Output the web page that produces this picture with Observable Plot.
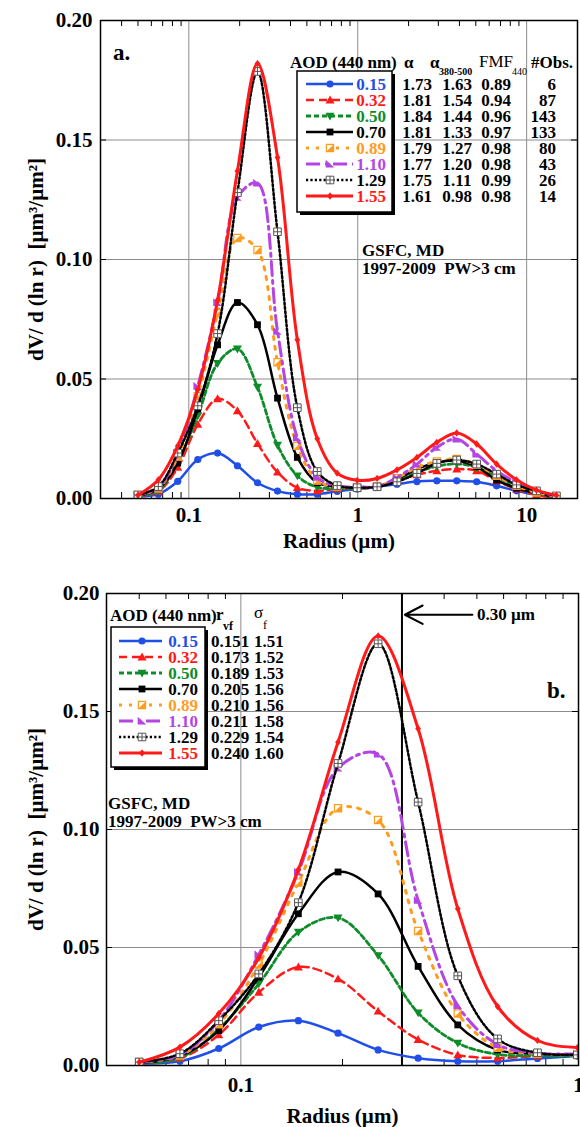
<!DOCTYPE html>
<html><head><meta charset="utf-8">
<script src="https://cdn.jsdelivr.net/npm/d3@7"></script>
<script src="https://cdn.jsdelivr.net/npm/@observablehq/plot@0.6"></script>
<style>
body{margin:0;background:#fff;}
#wrap{position:relative;width:580px;height:1127px;overflow:hidden;}
#pa{position:absolute;left:0;top:0;}
#pb{position:absolute;left:0;top:556px;}
svg text{font-family:"Liberation Serif","Times New Roman",serif;}
</style></head><body>
<div id="wrap"><div id="pa"></div><div id="pb"></div></div>
<script>
// ---------------- DATA ----------------
const radii = [0.050, 0.066, 0.086, 0.113, 0.148, 0.194, 0.255, 0.335, 0.439, 0.576, 0.756, 0.992,
               1.302, 1.708, 2.241, 2.940, 3.857, 5.061, 6.641, 8.713, 11.432, 15.000];
const aodLabels = ["0.15", "0.32", "0.50", "0.70", "0.89", "1.10", "1.29", "1.55"];
const dv015 = [0.0008, 0.0018, 0.0072, 0.0163, 0.0190, 0.0137, 0.0066, 0.0031, 0.0018, 0.0018, 0.0030, 0.0040,
               0.0049, 0.0060, 0.0071, 0.0074, 0.0074, 0.0070, 0.0053, 0.0032, 0.0015, 0.0004];
const dv032 = [0.0010, 0.0030, 0.0130, 0.0310, 0.0417, 0.0367, 0.0230, 0.0110, 0.0045, 0.0032, 0.0040, 0.0042,
               0.0050, 0.0074, 0.0099, 0.0116, 0.0123, 0.0116, 0.0074, 0.0039, 0.0015, 0.0004];
const dv050 = [0.0010, 0.0032, 0.0155, 0.0346, 0.0565, 0.0626, 0.0466, 0.0223, 0.0095, 0.0047, 0.0042, 0.0042,
               0.0050, 0.0075, 0.0110, 0.0135, 0.0145, 0.0130, 0.0090, 0.0050, 0.0022, 0.0008];
const dv070 = [0.0012, 0.0040, 0.0148, 0.0374, 0.0643, 0.0820, 0.0727, 0.0420, 0.0172, 0.0066, 0.0050, 0.0045,
               0.0048, 0.0080, 0.0123, 0.0151, 0.0158, 0.0133, 0.0077, 0.0043, 0.0022, 0.0007];
const dv089 = [0.0015, 0.0042, 0.0175, 0.0428, 0.0775, 0.1090, 0.1040, 0.0570, 0.0220, 0.0075, 0.0050, 0.0045,
               0.0050, 0.0085, 0.0130, 0.0155, 0.0165, 0.0141, 0.0095, 0.0053, 0.0025, 0.0008];
const dv110 = [0.0015, 0.0045, 0.0190, 0.0470, 0.0820, 0.1260, 0.1320, 0.0700, 0.0254, 0.0089, 0.0052, 0.0049,
               0.0049, 0.0088, 0.0144, 0.0214, 0.0249, 0.0186, 0.0116, 0.0067, 0.0032, 0.0011];
const dv129 = [0.0015, 0.0050, 0.0190, 0.0388, 0.0690, 0.1280, 0.1787, 0.1116, 0.0380, 0.0113, 0.0054, 0.0045,
               0.0049, 0.0070, 0.0105, 0.0147, 0.0161, 0.0144, 0.0102, 0.0057, 0.0032, 0.0011];
const dv155 = [0.0014, 0.0078, 0.0220, 0.0456, 0.0830, 0.1370, 0.1820, 0.1427, 0.0664, 0.0250, 0.0106, 0.0076,
               0.0084, 0.0120, 0.0172, 0.0235, 0.0274, 0.0228, 0.0144, 0.0078, 0.0035, 0.0014];
const alphaVals   = ["1.73", "1.81", "1.84", "1.81", "1.79", "1.77", "1.75", "1.61"];
const alpha380500 = ["1.63", "1.54", "1.44", "1.33", "1.27", "1.20", "1.11", "0.98"];
const fmf440      = ["0.89", "0.94", "0.96", "0.97", "0.98", "0.98", "0.99", "0.98"];
const nObs        = ["6", "87", "143", "133", "80", "43", "26", "14"];
const rvf         = ["0.151", "0.173", "0.189", "0.205", "0.210", "0.211", "0.229", "0.240"];
const sigmaF      = ["1.51", "1.52", "1.53", "1.56", "1.56", "1.58", "1.54", "1.60"];
const yTicks  = [0, 0.05, 0.10, 0.15, 0.20];
const yGrid   = [0.05, 0.10, 0.15];
const xTicksA = [0.1, 1, 10];
const xTicksB = [0.1, 1];
const minorA  = [0.04, 0.05, 0.06, 0.07, 0.08, 0.09, 0.2, 0.3, 0.4, 0.5, 0.6, 0.7, 0.8, 0.9, 2, 3, 4, 5, 6, 7, 8, 9];
const minorB  = [0.05, 0.06, 0.07, 0.08, 0.09, 0.2, 0.3, 0.4, 0.5, 0.6, 0.7, 0.8, 0.9];
const cutoffRadius = 0.30;
const siteText = ["GSFC, MD", "1997-2009\u00a0\u00a0PW>3 cm"];

// ---------------- SYMBOLS ----------------
const rad = size => Math.sqrt(size / Math.PI);
const symCircle = {draw(c, size){ const s = rad(size); c.moveTo(s, 0); c.arc(0, 0, s, 0, 2*Math.PI); }};
const symTriUp = {draw(c, size){ const s = rad(size)*1.25; c.moveTo(0, -s); c.lineTo(s, s*0.75); c.lineTo(-s, s*0.75); c.closePath(); }};
const symTriDown = {draw(c, size){ const s = rad(size)*1.25; c.moveTo(0, s); c.lineTo(s, -s*0.75); c.lineTo(-s, -s*0.75); c.closePath(); }};
const symSquare = {draw(c, size){ const s = rad(size); c.rect(-s, -s, 2*s, 2*s); }};
const symHalf = {draw(c, size){ const s = rad(size); c.moveTo(s, -s); c.lineTo(s, s); c.lineTo(-s, s); c.closePath(); }};
const symCorner = {draw(c, size){ const s = rad(size)*1.2; c.moveTo(-s, -s); c.lineTo(-s, s*0.8); c.lineTo(s, s*0.8); c.closePath(); }};
const symBoxCross = {draw(c, size){ const s = rad(size); c.moveTo(-s,-s); c.lineTo(s,-s); c.lineTo(s,s); c.lineTo(-s,s); c.closePath();
  c.moveTo(0,-s); c.lineTo(0,s); c.moveTo(-s,0); c.lineTo(s,0); }};
const symDiamond = {draw(c, size){ const s = rad(size)*1.3; c.moveTo(0,-s); c.lineTo(s*0.8,0); c.lineTo(0,s); c.lineTo(-s*0.8,0); c.closePath(); }};

const BLUE = "#1f4fe6", RED = "#ff1a1a", GREEN = "#0e8c2a", ORANGE = "#ff9c1f", PURPLE = "#b445e3";

const seriesValues = [dv015, dv032, dv050, dv070, dv089, dv110, dv129, dv155];
const styles = [
  {color: BLUE,   width: 2.5, dash: null,          text: BLUE,   markers: [{symbol: symCircle, r: 3.6, fill: BLUE, stroke: "none"}]},
  {color: RED,    width: 2.5, dash: "8,5",         text: RED,    markers: [{symbol: symTriUp, r: 3.6, fill: RED, stroke: "none"}]},
  {color: GREEN,  width: 2.8, dash: "5,3",         text: GREEN,  markers: [{symbol: symTriDown, r: 3.6, fill: GREEN, stroke: "none"}]},
  {color: "#000", width: 2.5, dash: null,          text: "#000", markers: [{symbol: symSquare, r: 3.4, fill: "#000", stroke: "none"}]},
  {color: ORANGE, width: 3,   dash: "3,7",         text: ORANGE, markers: [{symbol: symSquare, r: 3.6, fill: "#fff", stroke: ORANGE, sw: 1.2}, {symbol: symHalf, r: 3.6, fill: ORANGE, stroke: "none"}]},
  {color: PURPLE, width: 3,   dash: "14,5,3,5",    text: PURPLE, markers: [{symbol: symCorner, r: 3.6, fill: PURPLE, stroke: "none"}]},
  {color: "#000", width: 2.5, dash: "2.2,2.2",     text: "#000", markers: [{symbol: symBoxCross, r: 3.8, fill: "#fff", stroke: "#555", sw: 1}]},
  {color: RED,    width: 3,   dash: null,          text: RED,    markers: [{symbol: symDiamond, r: 2.8, fill: RED, stroke: "none"}]}
];

const rows = aodLabels.flatMap((aod, k) => radii.map((r, i) => ({aod, r, v: seriesValues[k][i]})));

const W = 580;
const FONT = "Liberation Serif, Times New Roman, serif";

function makePanel(cfg) {
  const innerW = W - cfg.ml - cfg.mr, innerH = cfg.h - cfg.mt - cfg.mb;
  const marks = [
    Plot.ruleX(cfg.xGrid, {stroke: "#8c8c8c", strokeWidth: 1}),
    Plot.ruleY(yGrid, {stroke: "#8c8c8c", strokeWidth: 1}),
    Plot.ruleX(cfg.minor, {insetTop: innerH - 6, stroke: "#000", strokeWidth: 1}),
    Plot.ruleX(cfg.minor, {insetBottom: innerH - 6, stroke: "#000", strokeWidth: 1}),
    Plot.ruleY(yGrid, {insetLeft: innerW - 6, stroke: "#000", strokeWidth: 1}),
    Plot.ruleY(yGrid, {insetRight: innerW - 6, stroke: "#000", strokeWidth: 1})
  ];
  if (cfg.cutoff) {
    marks.push(Plot.ruleX([cutoffRadius], {stroke: "#000", strokeWidth: 2}));
  }
  aodLabels.forEach((aod, k) => {
    const st = styles[k];
    const data = rows.filter(d => d.aod === aod);
    marks.push(Plot.line(data, {x: "r", y: "v", stroke: st.color, strokeWidth: st.width,
      strokeDasharray: st.dash || undefined, curve: "catmull-rom", clip: true}));
    st.markers.forEach(m => {
      marks.push(Plot.dot(data, {x: "r", y: "v", symbol: m.symbol, r: m.r, fill: m.fill,
        stroke: m.stroke, strokeWidth: m.sw || 0, clip: true}));
    });
  });
  if (cfg.cutoff) {
    marks.push(Plot.arrow([{x1: 0.485, x2: cutoffRadius * 1.02, y: 0.191}],
      {x1: "x1", x2: "x2", y1: "y", y2: "y", stroke: "#000", strokeWidth: 2, headLength: 15, headAngle: 55}));
    marks.push(Plot.text([{x: 0.49, y: 0.191, t: "0.30 \u00b5m"}],
      {x: "x", y: "y", text: "t", textAnchor: "start", dx: 3, fontSize: 17, fontWeight: "bold", fill: "#000"}));
  }
  marks.push(Plot.frame({stroke: "#000", strokeWidth: 1.5}));
  marks.push(Plot.axisX(cfg.xTicks, {anchor: "bottom", tickSize: 0, tickPadding: cfg.xPad,
    tickFormat: d3.format("~g"), fontSize: 21, fontWeight: "bold",
    label: "Radius (\u00b5m)", labelAnchor: "center", labelOffset: cfg.xLabelOffset, labelArrow: "none"}));
  marks.push(Plot.axisY(yTicks, {anchor: "left", tickSize: 0, tickPadding: cfg.yPad,
    tickFormat: d3.format(".2f"), fontSize: 21, fontWeight: "bold",
    label: "dV/ d (ln r)\u00a0\u00a0[\u00b5m\u00b3/\u00b5m\u00b2]", labelAnchor: "center", labelOffset: cfg.yLabelOffset, labelArrow: "none"}));

  return Plot.plot({
    width: W, height: cfg.h,
    marginTop: cfg.mt, marginRight: cfg.mr, marginBottom: cfg.mb, marginLeft: cfg.ml,
    x: {type: "log", domain: cfg.xDomain, axis: null},
    y: {domain: [0, 0.2], axis: null},
    style: {fontFamily: FONT, fontWeight: "bold", fontSize: "21px", color: "#000", background: "#fff", overflow: "visible"},
    marks
  });
}

function addText(g, x, y, txt, opts = {}) {
  return g.append("text").attr("x", x).attr("y", y).attr("dy", "0.35em")
    .attr("text-anchor", opts.anchor || "start")
    .attr("font-size", opts.size || 17)
    .attr("font-weight", opts.weight || "bold")
    .attr("fill", opts.fill || "#000")
    .style("font-family", FONT)
    .text(txt);
}

function drawLegend(svg, L) {
  const g = d3.select(svg).append("g");
  g.append("rect").attr("x", L.x + 3).attr("y", L.y + 3).attr("width", L.w).attr("height", L.h).attr("fill", "#000");
  g.append("rect").attr("x", L.x).attr("y", L.y).attr("width", L.w).attr("height", L.h)
    .attr("fill", "#fff").attr("stroke", "#000").attr("stroke-width", 1.5);
  addText(g, L.hx, L.hy, "AOD (440 nm)", {size: 17});
  aodLabels.forEach((aod, k) => {
    const st = styles[k];
    const y = L.row0 + k * L.dy;
    const ln = g.append("line").attr("x1", L.lx0).attr("x2", L.lx1).attr("y1", y).attr("y2", y)
      .attr("stroke", st.color).attr("stroke-width", st.width);
    if (st.dash) ln.attr("stroke-dasharray", st.dash);
    st.markers.forEach(m => {
      g.append("path").attr("transform", `translate(${L.mx},${y})`)
        .attr("d", d3.symbol(m.symbol, Math.PI * m.r * m.r)())
        .attr("fill", m.fill).attr("stroke", m.stroke).attr("stroke-width", m.sw || 0);
    });
    addText(g, L.tx, y, aod, {anchor: "end", fill: st.text, size: 17});
  });
  return g;
}

// ---------------- PANEL A ----------------
const cfgA = {h: 552, mt: 20, mr: 3, mb: 54, ml: 100, xDomain: [0.03, 20], xGrid: xTicksA, minor: minorA,
  xTicks: xTicksA, xPad: 9, xLabelOffset: 49, yPad: 8, yLabelOffset: 72, cutoff: false};
const svgA = makePanel(cfgA);
document.getElementById("pa").appendChild(svgA);
const gA = drawLegend(svgA, {x: 297, y: 71, w: 95, h: 141, hx: 290, hy: 62, row0: 84, dy: 16,
  lx0: 306, lx1: 353, mx: 330, tx: 386});
addText(gA, 404, 62, "\u03b1", {size: 17});
addText(gA, 430, 62, "\u03b1", {size: 17});
addText(gA, 439, 71, "380-500", {size: 10});
addText(gA, 479, 61, "FMF", {size: 17, weight: "normal"});
addText(gA, 512, 71, "440", {size: 10, weight: "normal"});
addText(gA, 531, 62, "#Obs.", {size: 17});
aodLabels.forEach((aod, k) => {
  const y = 84 + k * 16;
  addText(gA, 417, y, alphaVals[k], {anchor: "middle"});
  addText(gA, 457, y, alpha380500[k], {anchor: "middle"});
  addText(gA, 496, y, fmf440[k], {anchor: "middle"});
  addText(gA, 556, y, nObs[k], {anchor: "end"});
});
addText(gA, 113, 52, "a.", {size: 23});
addText(gA, 362, 250, siteText[0], {size: 17});
addText(gA, 362, 268, siteText[1], {size: 17});

// ---------------- PANEL B ----------------
const cfgB = {h: 571, mt: 37, mr: 2, mb: 62, ml: 106, xDomain: [0.04, 1], xGrid: xTicksB, minor: minorB,
  xTicks: xTicksB, xPad: 12, xLabelOffset: 57, yPad: 7, yLabelOffset: 78, cutoff: true};
const svgB = makePanel(cfgB);
document.getElementById("pb").appendChild(svgB);
const gB = drawLegend(svgB, {x: 111, y: 71, w: 94, h: 140, hx: 110, hy: 59, row0: 85, dy: 16,
  lx0: 119, lx1: 162, mx: 142, tx: 198});
addText(gB, 216, 58, "r", {size: 17});
addText(gB, 223, 70, "vf", {size: 12});
addText(gB, 254, 56, "\u03c3", {size: 17, weight: "normal"});
addText(gB, 263, 69, "f", {size: 12, weight: "normal"});
aodLabels.forEach((aod, k) => {
  const y = 85 + k * 16;
  addText(gB, 211, y, rvf[k]);
  addText(gB, 254, y, sigmaF[k]);
});
addText(gB, 547, 134, "b.", {size: 23});
addText(gB, 108, 247, siteText[0], {size: 17});
addText(gB, 108, 265, siteText[1], {size: 17});
</script>
</body></html>
